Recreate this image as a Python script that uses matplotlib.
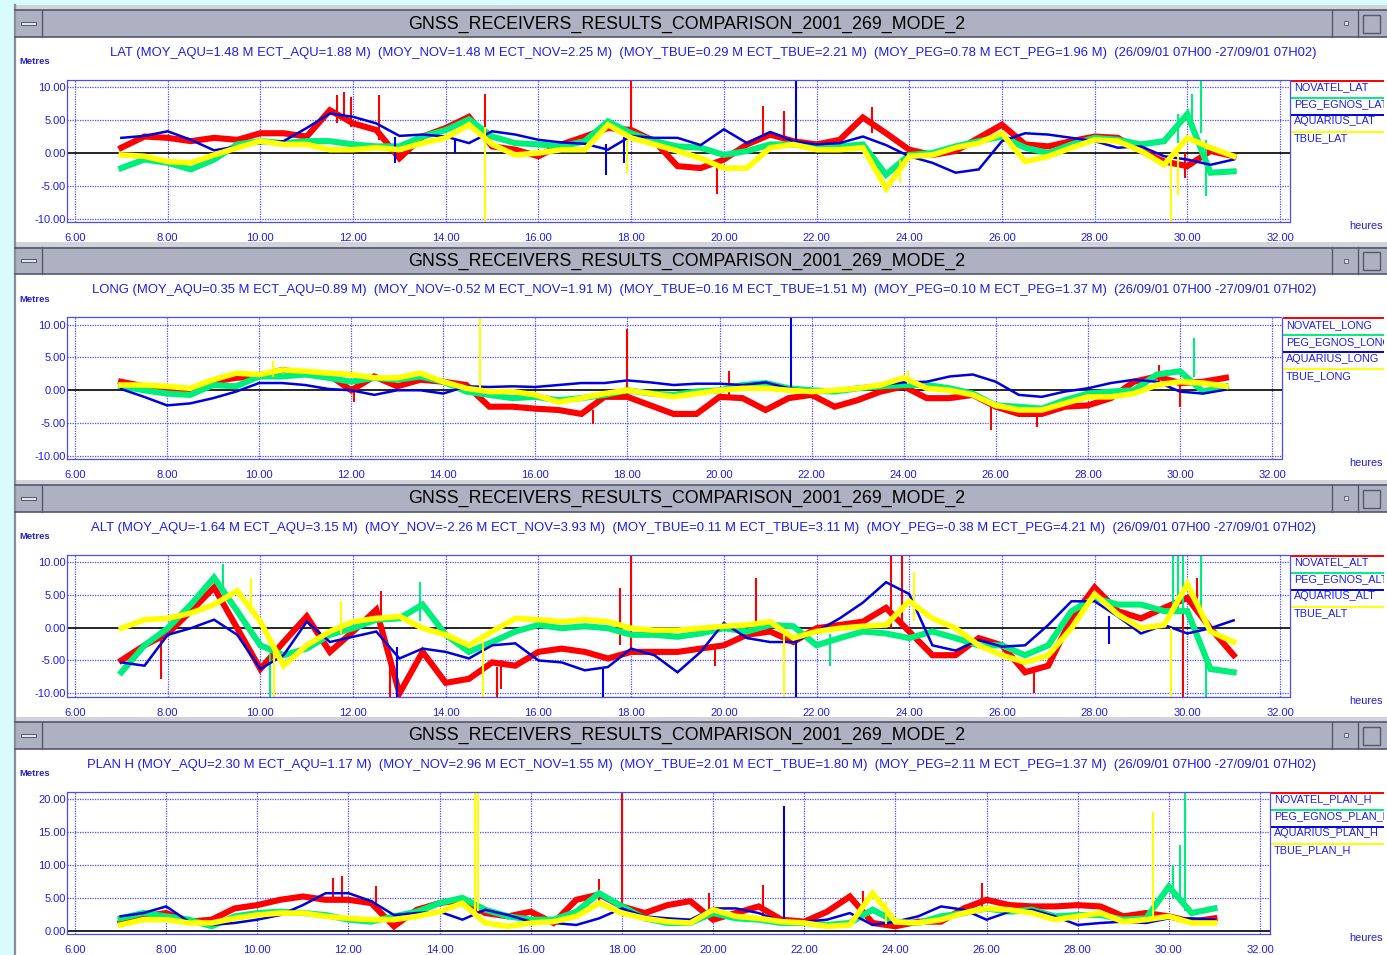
"""GNSS receivers comparison 2001_269 mode 2: LAT / LONG / ALT / PLAN_H, 4 stacked windows."""
import matplotlib
matplotlib.use("Agg")
import matplotlib.pyplot as plt
from matplotlib.patches import Rectangle

plt.rcParams["font.family"] = ["Liberation Sans", "DejaVu Sans"]

W, H = 1387, 955

# time axis (hours), half-hour readings
HOURS = [7.0, 7.5, 8.0, 8.5, 9.0, 9.5, 10.0, 10.5, 11.0, 11.5, 12.0, 12.5, 13.0,
         13.5, 14.0, 14.5, 15.0, 15.5, 16.0, 16.5, 17.0, 17.5, 18.0, 18.5, 19.0,
         19.5, 20.0, 20.5, 21.0, 21.5, 22.0, 22.5, 23.0, 23.5, 24.0, 24.5, 25.0,
         25.5, 26.0, 26.5, 27.0, 27.5, 28.0, 28.5, 29.0, 29.5, 30.0, 30.5, 31.0]

# ---- LAT ----
LAT_NOV = [0.8, 2.5, 2.3, 1.8, 2.3, 2.0, 3.0, 3.0, 2.5, 6.5, 4.5, 3.5, -0.8,
           2.5, 3.8, 5.5, 1.0, 0.5, -0.5, 1.3, 2.5, 3.8, 3.5, 1.8, -2.0,
           -2.3, -1.0, 1.3, 2.8, 1.8, 1.3, 2.0, 5.4, 3.0, 0.5, -0.3, 0.3,
           2.3, 4.3, 1.3, 1.0, 1.8, 2.5, 2.3, 0.3, -1.3, -2.0, 0.3, -0.5]
LAT_PEG = [-2.3, -1.0, -1.5, -2.5, -1.0, 1.3, 1.8, 1.5, 1.8, 1.8, 1.3, 1.0, 1.0,
           2.5, 3.5, 5.1, 2.5, 1.5, 1.3, 1.0, 1.8, 4.8, 3.0, 1.8, 1.0,
           0.8, -0.3, 0.3, 1.3, 1.3, 1.0, 1.0, 1.3, -3.3, -0.3, 0.0, 1.0,
           1.8, 2.5, 0.8, 0.0, 1.3, 2.3, 2.0, 1.3, 1.8, 5.9, -3.0, -2.8]
LAT_AQU = [2.3, 2.6, 3.3, 2.0, 0.4, 1.0, 1.5, 1.8, 3.8, 6.0, 5.5, 4.5, 2.6,
           2.8, 2.5, 1.5, 3.3, 2.8, 2.0, 1.6, 1.4, 0.5, 2.6, 2.3, 2.3,
           1.2, 3.6, 1.5, 3.2, 1.8, 1.3, 1.5, 2.5, 1.2, -0.5, -1.5, -3.0,
           -2.5, 1.8, 3.0, 2.8, 2.3, 1.8, 0.8, 1.0, -0.5, -1.0, -1.8, -1.0]
LAT_TBUE = [-0.3, -0.5, -1.3, -1.5, -0.3, 0.8, 1.8, 1.3, 1.3, 0.5, 0.5, 0.8, 0.5,
            1.5, 2.3, 4.3, 1.3, -0.3, 0.0, 0.5, 0.5, 4.3, 2.3, 1.3, 0.3,
            -0.8, -2.3, -2.3, 0.8, 1.3, 0.5, 0.5, 0.8, -5.4, -0.5, -0.3, 0.8,
            1.5, 3.0, -1.3, -0.5, 0.8, 2.0, 1.8, 0.3, -1.8, 2.3, 0.8, -0.5]
# spikes: (hour, low, high)
LAT_NOV_SPK = [(11.65, 4.5, 8.8), (11.8, 5.0, 9.2), (11.95, 4.0, 8.5), (12.55, 2.0, 8.8),
               (14.85, 3.0, 8.9), (18.0, 2.5, 11.5), (19.85, -6.3, -1.0), (20.85, 2.0, 7.1),
               (21.3, 2.0, 6.4), (23.2, 3.0, 7.0), (29.95, -3.8, 0.0)]
LAT_PEG_SPK = [(29.8, 1.5, 6.0), (30.1, 4.0, 9.0), (30.3, 3.0, 11.5), (30.4, -6.5, 2.0)]
LAT_AQU_SPK = [(12.9, -1.5, 2.5), (14.2, 0.0, 2.3), (17.45, -3.3, 1.3), (17.85, -1.5, 2.5),
               (21.55, 1.5, 11.5)]
LAT_TBUE_SPK = [(14.85, -11.0, 4.0), (17.9, -3.1, 2.0), (23.8, -4.5, -1.0),
                (29.65, -11.0, -1.0), (29.8, -6.4, 0.0)]

# ---- LONG ----
LONG_NOV = [1.3, 0.6, 0.0, -0.2, 1.3, 1.9, 2.1, 3.1, 2.6, 2.4, 0.0, 2.1, 0.6,
            1.6, 1.3, 0.8, -2.5, -2.5, -2.8, -3.0, -3.6, -1.0, -1.0, -2.3, -3.6,
            -3.6, -1.0, -1.2, -3.0, -1.2, -0.7, -2.5, -1.5, -0.2, 0.6, -1.2, -1.2,
            -0.7, -2.5, -3.6, -3.6, -2.5, -2.3, -1.2, 1.3, 2.1, 1.1, 1.3, 1.9]
LONG_PEG = [0.6, 0.0, -0.5, -0.7, 0.8, 0.6, 2.1, 2.1, 2.4, 1.9, 1.3, 1.9, 1.6,
            2.1, 1.3, -0.2, -0.7, -1.2, -1.0, -1.5, -1.2, -0.7, 0.0, -0.5, -0.7,
            -0.2, 0.0, 0.8, 1.1, 0.3, 0.0, -0.2, 0.3, 0.6, 0.8, 0.8, 0.3,
            -0.5, -2.3, -2.5, -2.8, -1.5, -0.5, -0.2, 0.0, 2.4, 2.9, -0.2, 0.6]
LONG_AQU = [0.2, -1.0, -2.3, -2.0, -1.2, -0.2, 1.1, 1.1, 0.8, 0.2, 0.0, -0.7, 0.0,
            0.0, -0.5, 0.6, 0.5, 0.6, 0.5, 0.8, 1.1, 1.1, 1.5, 1.2, 0.8,
            1.0, 1.0, 0.8, 1.2, 0.3, 0.0, 0.1, 0.3, 0.8, 1.2, 1.3, 2.1,
            2.4, 1.3, -0.7, -1.0, -0.2, 0.3, 1.1, 1.6, 1.3, -0.2, -0.5, 0.1]
LONG_TBUE = [0.8, 0.8, 0.6, 0.3, 1.6, 2.6, 2.4, 3.1, 2.9, 2.6, 2.4, 1.9, 1.9,
             2.6, 1.3, 0.3, -0.2, -0.2, -0.7, -1.8, -1.2, -0.5, 0.0, -0.5, -1.0,
             -0.5, 0.0, 0.3, 0.3, 0.0, -0.2, 0.0, 0.3, 0.8, 1.9, 0.3, 0.0,
             -0.7, -2.3, -3.0, -3.0, -2.0, -1.0, -1.0, -0.5, 0.8, 1.3, 1.1, 0.6]
LONG_NOV_SPK = [(12.05, -1.8, 0.5), (17.25, -5.2, -3.0), (18.0, -1.0, 9.3), (20.2, -1.0, 2.9),
                (25.9, -6.1, -2.0), (26.9, -5.6, -3.0), (29.55, 1.0, 3.8), (30.0, -2.5, 1.0)]
LONG_PEG_SPK = [(30.3, 2.0, 8.0)]
LONG_AQU_SPK = [(21.55, 0.3, 11.5)]
LONG_TBUE_SPK = [(10.3, 2.0, 4.5), (14.8, 0.0, 11.5), (24.1, 1.0, 3.0)]

# ---- ALT ----
ALT_NOV = [-5.0, -2.7, -0.9, 2.5, 6.1, -0.1, -6.3, -2.2, 1.7, -3.7, -0.6, 2.7, -10.0,
           -3.7, -8.4, -7.8, -5.3, -5.8, -3.7, -3.2, -3.7, -4.7, -3.7, -3.7, -3.7,
           -3.2, -2.7, -1.1, -0.6, -2.2, -0.1, 0.4, 0.9, 3.0, -0.6, -4.2, -4.2,
           -1.6, -2.7, -6.8, -5.8, 1.4, 6.1, 2.5, 1.4, 3.0, 4.5, -0.1, -4.2]
ALT_PEG = [-6.8, -2.7, -0.1, 3.5, 7.6, 2.5, -2.7, -4.2, -3.2, -1.1, -0.1, 1.2, 1.4,
           3.5, -1.1, -3.7, -2.2, -0.6, 0.4, -0.1, 0.2, -0.1, -1.1, -1.1, -1.4,
           -0.9, -0.1, -0.6, 0.4, 0.2, -2.7, -1.6, -0.6, -0.9, -1.6, -0.6, -1.6,
           -2.7, -2.7, -4.2, -2.7, 2.5, 4.5, 3.5, 3.5, 2.5, 2.5, -6.3, -6.8]
ALT_AQU = [-5.3, -5.8, -1.1, -0.1, 1.2, -1.1, -6.3, -4.2, 0.9, -2.2, -1.4, -0.6, -4.7,
           -3.2, -3.7, -4.7, -2.7, -2.4, -5.0, -5.3, -6.5, -6.0, -3.2, -4.2, -6.8,
           -3.7, 0.7, -1.6, -2.2, -2.2, -0.6, 1.4, 3.8, 6.9, 5.1, -2.7, -3.5,
           -1.9, -2.9, -2.7, 0.4, 4.0, 4.0, 1.7, -0.9, 0.4, -0.9, -0.1, 1.1]
ALT_TBUE = [-0.1, 1.2, 1.4, 2.2, 3.5, 5.6, 0.9, -5.8, -2.7, -0.6, 0.9, 1.4, 1.7,
            -0.1, -1.1, -2.7, -0.6, 1.4, 1.2, 0.9, 1.2, 0.9, -0.1, -0.4, -0.4,
            -0.1, 0.2, 0.4, 0.9, -1.6, -0.6, -0.1, 0.2, 0.4, 4.0, 1.4, -0.1,
            -2.7, -4.2, -5.3, -4.2, -0.1, 5.1, 2.0, -0.1, 0.4, 6.6, -0.6, -2.2]
ALT_NOV_SPK = [(7.85, -7.8, -1.0), (12.6, 0.0, 5.6), (12.8, -11.0, -5.0), (15.1, -11.0, -6.0),
               (15.2, -9.4, -5.0), (17.75, -2.7, 6.0), (18.0, -3.7, 11.5), (19.8, -5.8, -3.0),
               (20.7, -1.0, 7.5), (23.6, 0.0, 11.5), (23.85, 0.0, 11.5), (26.7, -10.0, -6.0),
               (29.9, -11.0, 3.0), (30.2, 2.0, 7.6)]
ALT_PEG_SPK = [(9.2, 5.0, 9.7), (10.2, -11.0, -4.0), (13.45, 1.0, 7.0), (22.3, -5.8, -1.0),
               (29.7, 2.0, 11.5), (29.8, 2.0, 11.5), (29.9, 2.0, 11.5), (30.3, 2.0, 11.5),
               (30.4, -11.0, -4.0)]
ALT_AQU_SPK = [(12.95, -11.0, -3.0), (17.4, -11.0, -6.0), (21.55, -11.0, -2.0), (28.3, -2.5, 1.7)]
ALT_TBUE_SPK = [(9.8, 2.0, 7.5), (10.3, -11.0, -3.0), (11.75, -1.0, 4.0), (14.8, -11.0, -2.0),
                (21.3, -11.0, -1.0), (24.1, 1.0, 8.5), (29.65, -11.0, 0.0)]

# ---- PLAN_H ----
PLAN_NOV = [1.2, 2.2, 2.7, 1.4, 1.7, 3.4, 3.9, 4.7, 5.2, 4.7, 4.7, 4.2, 0.7,
            3.2, 4.2, 4.7, 2.7, 2.2, 2.9, 1.2, 4.7, 5.5, 3.7, 2.7, 3.9,
            4.5, 1.7, 2.7, 3.7, 1.7, 1.4, 2.9, 5.2, 1.2, 0.7, 1.4, 1.4,
            3.4, 4.7, 3.9, 3.7, 3.7, 3.9, 3.7, 2.2, 2.7, 2.2, 1.4, 1.9]
PLAN_PEG = [1.9, 2.7, 2.2, 1.7, 0.7, 2.2, 2.7, 2.9, 2.7, 2.4, 1.7, 1.4, 2.2,
            2.9, 4.2, 5.0, 3.2, 2.2, 1.7, 1.7, 2.9, 5.7, 3.7, 1.9, 1.2,
            1.2, 2.7, 1.9, 1.7, 1.2, 1.2, 0.9, 1.2, 3.2, 1.4, 1.2, 2.2,
            2.7, 3.4, 2.9, 3.2, 2.2, 2.4, 2.4, 1.7, 1.9, 6.7, 2.7, 3.4]
PLAN_AQU = [2.2, 2.7, 3.7, 1.4, 0.9, 1.2, 1.7, 2.4, 3.9, 5.7, 5.7, 4.5, 2.4,
            2.7, 2.9, 1.7, 3.2, 2.4, 1.4, 1.2, 0.9, 1.9, 3.4, 2.2, 1.9,
            1.7, 3.4, 3.4, 2.7, 1.4, 1.4, 1.7, 2.7, 0.9, 1.4, 2.2, 3.7,
            3.2, 1.7, 2.9, 3.2, 2.2, 0.9, 1.2, 1.4, 1.2, 1.9, 1.9, 1.7]
PLAN_TBUE = [0.9, 1.7, 1.7, 1.2, 1.2, 1.9, 2.4, 2.7, 2.7, 2.2, 1.9, 1.7, 1.7,
             2.2, 2.9, 4.2, 1.2, 0.7, 1.2, 1.4, 2.2, 4.2, 2.7, 1.9, 1.4,
             1.2, 3.2, 2.2, 1.9, 1.4, 1.2, 0.7, 0.9, 5.7, 1.4, 1.2, 1.7,
             2.7, 3.4, 3.2, 2.7, 1.7, 2.2, 2.7, 1.4, 1.7, 2.2, 1.2, 1.2]
PLAN_NOV_SPK = [(11.65, 4.5, 8.0), (11.85, 4.5, 8.3), (12.6, 3.0, 6.8), (14.85, 3.0, 8.3),
                (17.5, 4.0, 7.8), (18.0, 3.0, 21.5), (19.9, 2.0, 5.8), (21.1, 2.0, 7.0),
                (23.3, 2.0, 6.0), (25.9, 3.0, 7.2)]
PLAN_PEG_SPK = [(30.1, 5.0, 10.0), (30.25, 5.0, 13.0), (30.35, 3.0, 21.5)]
PLAN_AQU_SPK = [(21.55, 1.4, 18.9)]
PLAN_TBUE_SPK = [(14.78, 3.0, 21.5), (14.85, 3.0, 21.5), (23.8, 1.0, 4.5), (29.65, 2.0, 17.9)]

TITLE = "GNSS_RECEIVERS_RESULTS_COMPARISON_2001_269_MODE_2"
PERIOD = "(26/09/01 07H00 -27/09/01 07H02)"
SUBTITLES = [
    "LAT (MOY_AQU=1.48 M ECT_AQU=1.88 M)  (MOY_NOV=1.48 M ECT_NOV=2.25 M)  "
    "(MOY_TBUE=0.29 M ECT_TBUE=2.21 M)  (MOY_PEG=0.78 M ECT_PEG=1.96 M)  " + PERIOD,
    "LONG (MOY_AQU=0.35 M ECT_AQU=0.89 M)  (MOY_NOV=-0.52 M ECT_NOV=1.91 M)  "
    "(MOY_TBUE=0.16 M ECT_TBUE=1.51 M)  (MOY_PEG=0.10 M ECT_PEG=1.37 M)  " + PERIOD,
    "ALT (MOY_AQU=-1.64 M ECT_AQU=3.15 M)  (MOY_NOV=-2.26 M ECT_NOV=3.93 M)  "
    "(MOY_TBUE=0.11 M ECT_TBUE=3.11 M)  (MOY_PEG=-0.38 M ECT_PEG=4.21 M)  " + PERIOD,
    "PLAN H (MOY_AQU=2.30 M ECT_AQU=1.17 M)  (MOY_NOV=2.96 M ECT_NOV=1.55 M)  "
    "(MOY_TBUE=2.01 M ECT_TBUE=1.80 M)  (MOY_PEG=2.11 M ECT_PEG=1.37 M)  " + PERIOD,
]
SUFFIX = ["LAT", "LONG", "ALT", "PLAN_H"]
RECEIVERS = ["NOVATEL", "PEG_EGNOS", "AQUARIUS", "TBUE"]
SERIES = [
    [LAT_NOV, LAT_PEG, LAT_AQU, LAT_TBUE],
    [LONG_NOV, LONG_PEG, LONG_AQU, LONG_TBUE],
    [ALT_NOV, ALT_PEG, ALT_AQU, ALT_TBUE],
    [PLAN_NOV, PLAN_PEG, PLAN_AQU, PLAN_TBUE],
]
SPIKES = [
    [LAT_NOV_SPK, LAT_PEG_SPK, LAT_AQU_SPK, LAT_TBUE_SPK],
    [LONG_NOV_SPK, LONG_PEG_SPK, LONG_AQU_SPK, LONG_TBUE_SPK],
    [ALT_NOV_SPK, ALT_PEG_SPK, ALT_AQU_SPK, ALT_TBUE_SPK],
    [PLAN_NOV_SPK, PLAN_PEG_SPK, PLAN_AQU_SPK, PLAN_TBUE_SPK],
]
YTICKS = [[-10, -5, 0, 5, 10]] * 3 + [[0, 5, 10, 15, 20]]
YLIMS = [(-10.5, 11.1)] * 3 + [(-0.45, 21.0)]

COLORS = ["#ff0000", "#00ee7c", "#0000dd", "#ffff00"]
LWS = [4.4, 4.4, 1.8, 4.0]
BLUE_TXT = "#1c1cf0"
GRID = "#4a4aff"
BAR = "#aeb1c1"
DARK = "#55586a"
X32 = [1280, 1272, 1280, 1260]   # pixel of the 32.00 gridline in each window

fig = plt.figure(figsize=(W / 100, H / 100), dpi=100)
fig.patch.set_facecolor("#d8fbfb")
ax0 = fig.add_axes([0, 0, 1384 / W, 1])
ax0.set_xlim(0, 1384)
ax0.set_ylim(H, 0)
ax0.axis("off")
ax0.add_patch(Rectangle((15, 5), W - 15, H - 5, fc="white", ec="none", clip_on=False))
ax0.plot([14.5, 14.5], [5, H], color="#8a8c98", lw=1.6, clip_on=False)

fit_texts = []
for i in range(4):
    y0 = 10 + 237.3 * i
    # title bar
    ax0.add_patch(Rectangle((15, y0 - 5), W - 15, 5, fc="#d2d3da", ec="none", clip_on=False))
    ax0.add_patch(Rectangle((15, y0), W - 15, 27, fc=BAR, ec="none", clip_on=False))
    ax0.plot([15, W], [y0 + 0.5] * 2, color=DARK, lw=1.2, clip_on=False)
    ax0.plot([15, W], [y0 + 27] * 2, color=DARK, lw=1.2, clip_on=False)
    ax0.plot([41.5] * 2, [y0, y0 + 27], color=DARK, lw=1.0, clip_on=False)
    ax0.add_patch(Rectangle((21, y0 + 12), 15, 3, fc="#e4e5ec", ec=DARK, lw=0.7, clip_on=False))
    ax0.plot([1332] * 2, [y0, y0 + 27], color=DARK, lw=1.0, clip_on=False)
    ax0.plot([1358] * 2, [y0, y0 + 27], color=DARK, lw=1.0, clip_on=False)
    ax0.add_patch(Rectangle((1344, y0 + 11.5), 4, 4, fc="#dcdde4", ec=DARK, lw=0.6, clip_on=False))
    ax0.add_patch(Rectangle((1363, y0 + 5), 17, 18, fc="none", ec=DARK, lw=1.0, clip_on=False))
    t = ax0.text(687, y0 + 14, TITLE, ha="center", va="center", fontsize=13, color="black")
    fit_texts.append((t, 552))
    t = ax0.text(1316, y0 + 43, SUBTITLES[i], ha="right", va="center", fontsize=9, color=BLUE_TXT)
    fit_texts.append((t, [1205, 1225, 1228, 1228][i]))
    ax0.text(19, y0 + 52, "Metres", ha="left", va="center", fontsize=6.8,
             fontweight="bold", color="#2424c8")
    ax0.text(1383, y0 + 216, "heures", ha="right", va="center", fontsize=7.8, color=BLUE_TXT)

    # plot window
    x6, x32 = 75, X32[i]
    pxh = (x32 - x6) / 26.0
    left_px, right_px = 67, x32 + 10
    top_px, bot_px = y0 + 70, y0 + 212
    ax = fig.add_axes([left_px / W, 1 - bot_px / H, (right_px - left_px) / W,
                       (bot_px - top_px) / H])
    ax.set_facecolor("none")
    ax.set_xlim(6 - 8 / pxh, 32 + 10 / pxh)
    ax.set_ylim(*YLIMS[i])
    hours = list(range(6, 33, 2))
    for h in hours:
        ax.axvline(h, color=GRID, lw=0.9, ls=(0, (1, 1)), zorder=1)
    for v in YTICKS[i]:
        if v != 0:
            ax.axhline(v, color=GRID, lw=0.9, ls=(0, (1, 1)), zorder=1)
    ax.axhline(0, color="black", lw=1.2, zorder=1.5)
    for vals, spk, col, lw in zip(SERIES[i], SPIKES[i], COLORS, LWS):
        ax.plot(HOURS, vals, color=col, lw=lw, zorder=2, solid_joinstyle="miter")
        for th, lo, hi in spk:
            ax.vlines(th, lo, hi, color=col, lw=1.5, zorder=2)
    ax.set_xticks(hours)
    ax.set_xticklabels([f"{h:.2f}" for h in hours])
    ax.set_yticks(YTICKS[i])
    ax.set_yticklabels([f"{v:.2f}" for v in YTICKS[i]])
    ax.tick_params(length=0, labelsize=8, labelcolor=BLUE_TXT)
    ax.tick_params(axis="x", pad=8)
    ax.tick_params(axis="y", pad=1)
    for s in ax.spines.values():
        s.set_linestyle((0, (1, 1)))
        s.set_color(GRID)
        s.set_linewidth(0.9)

    # legend column at the right, clipped at the window edge as in the original
    lx = right_px + 2
    for k, (name, col) in enumerate(zip(RECEIVERS, COLORS)):
        ly = y0 + 71 + 17 * k
        ax0.plot([lx, 1384], [ly, ly], color=col, lw=1.4)
        ax0.text(lx + 2, ly + 6.5, f"{name}_{SUFFIX[i]}", ha="left", va="center",
                 fontsize=7.8, color=BLUE_TXT, clip_on=True)

renderer = fig.canvas.get_renderer()
for t, target in fit_texts:
    bb = t.get_window_extent(renderer=renderer)
    t.set_fontsize(t.get_fontsize() * target / bb.width)

fig.savefig("out.png", dpi=100, facecolor=fig.get_facecolor())
